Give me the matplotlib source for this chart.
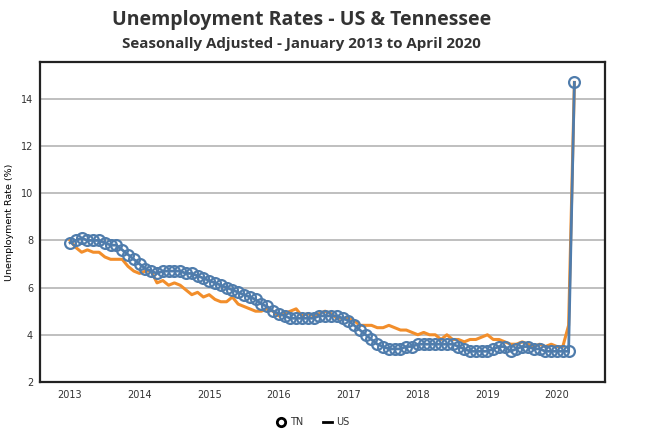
import matplotlib.pyplot as plt
from matplotlib.lines import Line2D

# monthly, Jan 2013 .. Apr 2020
tn = [
    7.9, 8.0, 8.1, 8.0, 8.0, 8.0, 7.9, 7.8, 7.8, 7.6, 7.4, 7.2,
    7.0, 6.8, 6.7, 6.6, 6.7, 6.7, 6.7, 6.7, 6.6, 6.6, 6.5, 6.4,
    6.3, 6.2, 6.1, 6.0, 5.9, 5.8, 5.7, 5.6, 5.5, 5.3, 5.2, 5.0,
    4.9, 4.8, 4.7, 4.7, 4.7, 4.7, 4.7, 4.8, 4.8, 4.8, 4.8, 4.7,
    4.6, 4.4, 4.2, 4.0, 3.8, 3.6, 3.5, 3.4, 3.4, 3.4, 3.5, 3.5,
    3.6, 3.6, 3.6, 3.6, 3.6, 3.6, 3.6, 3.5, 3.4, 3.3, 3.3, 3.3,
    3.3, 3.4, 3.5, 3.5, 3.3, 3.4, 3.5, 3.5, 3.4, 3.4, 3.3, 3.3,
    3.3, 3.3, 3.3, 14.7,
]
us = [
    8.0, 7.7, 7.5, 7.6, 7.5, 7.5, 7.3, 7.2, 7.2, 7.2, 6.9, 6.7,
    6.6, 6.7, 6.7, 6.2, 6.3, 6.1, 6.2, 6.1, 5.9, 5.7, 5.8, 5.6,
    5.7, 5.5, 5.4, 5.4, 5.6, 5.3, 5.2, 5.1, 5.0, 5.0, 5.1, 5.0,
    4.8, 4.9, 5.0, 5.1, 4.8, 4.9, 4.8, 4.9, 5.0, 4.9, 4.7, 4.7,
    4.7, 4.6, 4.4, 4.4, 4.4, 4.3, 4.3, 4.4, 4.3, 4.2, 4.2, 4.1,
    4.0, 4.1, 4.0, 4.0, 3.8, 4.0, 3.8, 3.8, 3.7, 3.8, 3.8, 3.9,
    4.0, 3.8, 3.8, 3.7, 3.6, 3.6, 3.7, 3.6, 3.5, 3.6, 3.5, 3.6,
    3.5, 3.5, 4.4, 14.7,
]
years = [2013, 2014, 2015, 2016, 2017, 2018, 2019, 2020]
yticks = [2, 4, 6, 8, 10, 12, 14]

months = [2013 + i / 12 for i in range(len(tn))]

blue = "#4f7cac"
orange = "#f28e2b"
txt = "#333333"

fig = plt.figure(figsize=(6.45, 4.36), dpi=100)
ax = fig.add_axes([0.062, 0.124, 0.876, 0.734])

ax.plot(months, us, color=orange, lw=2.2, zorder=2)
ax.plot(months, tn, color=blue, lw=2.0, marker="o", ms=7.8, mfc="none",
        mec=blue, mew=1.6, zorder=3)

ax.set_xlim(2012.568, 2020.69)
ax.set_ylim(2, 15.57)
ax.set_xticks(years, labels=[str(y) for y in years])
ax.set_yticks(yticks, labels=[str(v) for v in yticks])
ax.tick_params(length=0, labelsize=7, colors=txt, pad=6)
ax.tick_params(axis="y", pad=5)
for v in yticks[1:]:
    ax.axhline(v, color="#b4b4b4", lw=1.2, zorder=1)
for s in ax.spines.values():
    s.set_linewidth(1.6)
    s.set_color("#222222")
ax.set_ylabel("Unemployment Rate (%)", fontsize=6.8, color="black", labelpad=5)

fig.text(0.468, 0.953, "Unemployment Rates - US & Tennessee", ha="center", va="center",
         fontsize=14, fontweight="bold", family="Open Sans", color=txt)
fig.text(0.468, 0.899, "Seasonally Adjusted - January 2013 to April 2020", ha="center",
         va="center", fontsize=10.9, fontweight="bold", family="Open Sans", color=txt)

handles = [
    Line2D([], [], color="black", marker="o", ls="none", ms=6, mfc="white", mew=2),
    Line2D([], [], color="black", lw=2),
]
fig.legend(handles, ["TN", "US"], loc="center", bbox_to_anchor=(0.485, 0.032), ncol=2,
           frameon=False, fontsize=7, handlelength=1.0, handletextpad=0.4,
           columnspacing=2.0, labelcolor=txt)

fig.savefig("out.png", dpi=100)
